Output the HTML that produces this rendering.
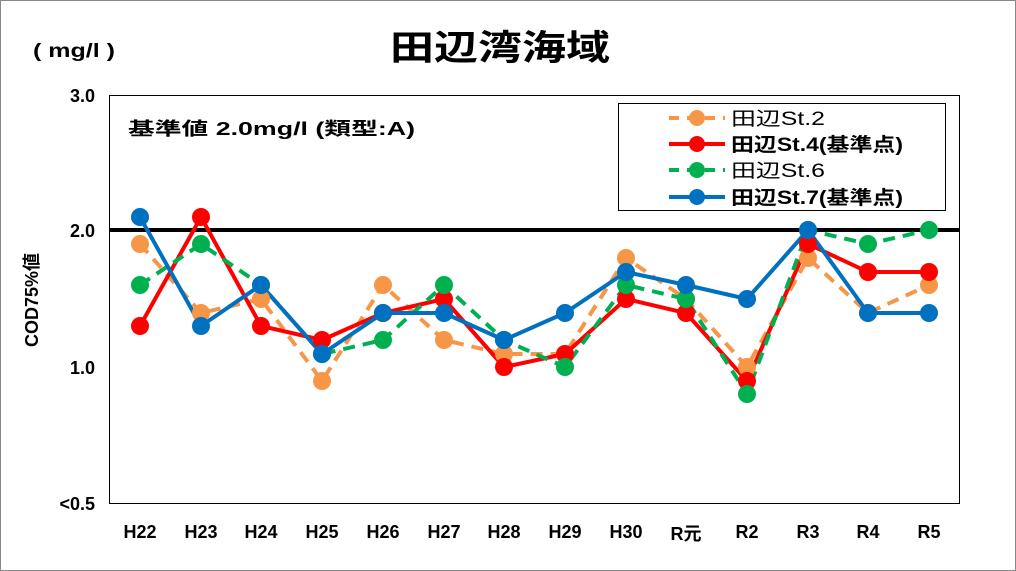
<!DOCTYPE html>
<html><head><meta charset="utf-8"><style>body{margin:0;background:#fff}svg{display:block;font-family:"Liberation Sans","Noto Sans CJK JP",sans-serif}</style></head>
<body>
<svg width="1016" height="571" viewBox="0 0 1016 571">
<rect x="0.5" y="0.5" width="1015" height="570" fill="#fff" stroke="#888"/>
<text x="390" y="60" font-size="35" font-weight="bold" textLength="220" lengthAdjust="spacingAndGlyphs">田辺湾海域</text>
<text x="33" y="57" font-size="19" font-weight="bold" textLength="82" lengthAdjust="spacingAndGlyphs">( mg/l )</text>
<rect x="109.5" y="95.5" width="850" height="408" fill="#fff" stroke="#000" stroke-width="1"/>
<line x1="109" y1="230" x2="959" y2="230" stroke="#000" stroke-width="4"/>
<g font-size="18" font-weight="bold" text-anchor="end">
<text x="95" y="102">3.0</text><text x="95" y="237">2.0</text><text x="95" y="374">1.0</text><text x="95" y="510">&lt;0.5</text>
</g>
<text transform="translate(38,300) rotate(-90)" font-size="18" font-weight="bold" text-anchor="middle">COD75%値</text>
<g font-size="18" font-weight="bold" text-anchor="middle">
<text x="140" y="538">H22</text><text x="201" y="538">H23</text><text x="261" y="538">H24</text><text x="322" y="538">H25</text><text x="383" y="538">H26</text><text x="444" y="538">H27</text><text x="504" y="538">H28</text><text x="565" y="538">H29</text><text x="626" y="538">H30</text><text x="686" y="540">R元</text><text x="747" y="538">R2</text><text x="808" y="538">R3</text><text x="868" y="538">R4</text><text x="929" y="538">R5</text>
</g>
<text x="128" y="135" font-size="18" font-weight="bold" textLength="287" lengthAdjust="spacingAndGlyphs">基準値  2.0mg/l (類型:A)</text>
<g fill="none" stroke-width="4">
<polyline stroke="#F79646" stroke-dasharray="12,8" points="140,244 201,313 261,299 322,381 383,285 444,340 504,354 565,354 626,258 686,299 747,367 808,258 868,313 929,285"/>
<polyline stroke="#FF0000" points="140,326 201,217 261,326 322,340 383,313 444,299 504,367 565,354 626,299 686,313 747,381 808,244 868,272 929,272"/>
<polyline stroke="#00B050" stroke-dasharray="12,8" points="140,285 201,244 261,285 322,354 383,340 444,285 504,340 565,367 626,285 686,299 747,394 808,230 868,244 929,230"/>
<polyline stroke="#0070C0" points="140,217 201,326 261,285 322,354 383,313 444,313 504,340 565,313 626,272 686,285 747,299 808,230 868,313 929,313"/>
</g>
<g fill="#F79646"><circle cx="140" cy="244" r="9"/><circle cx="201" cy="313" r="9"/><circle cx="261" cy="299" r="9"/><circle cx="322" cy="381" r="9"/><circle cx="383" cy="285" r="9"/><circle cx="444" cy="340" r="9"/><circle cx="504" cy="354" r="9"/><circle cx="565" cy="354" r="9"/><circle cx="626" cy="258" r="9"/><circle cx="686" cy="299" r="9"/><circle cx="747" cy="367" r="9"/><circle cx="808" cy="258" r="9"/><circle cx="868" cy="313" r="9"/><circle cx="929" cy="285" r="9"/></g>
<g fill="#FF0000"><circle cx="140" cy="326" r="9"/><circle cx="201" cy="217" r="9"/><circle cx="261" cy="326" r="9"/><circle cx="322" cy="340" r="9"/><circle cx="383" cy="313" r="9"/><circle cx="444" cy="299" r="9"/><circle cx="504" cy="367" r="9"/><circle cx="565" cy="354" r="9"/><circle cx="626" cy="299" r="9"/><circle cx="686" cy="313" r="9"/><circle cx="747" cy="381" r="9"/><circle cx="808" cy="244" r="9"/><circle cx="868" cy="272" r="9"/><circle cx="929" cy="272" r="9"/></g>
<g fill="#00B050"><circle cx="140" cy="285" r="9"/><circle cx="201" cy="244" r="9"/><circle cx="261" cy="285" r="9"/><circle cx="322" cy="354" r="9"/><circle cx="383" cy="340" r="9"/><circle cx="444" cy="285" r="9"/><circle cx="504" cy="340" r="9"/><circle cx="565" cy="367" r="9"/><circle cx="626" cy="285" r="9"/><circle cx="686" cy="299" r="9"/><circle cx="747" cy="394" r="9"/><circle cx="808" cy="230" r="9"/><circle cx="868" cy="244" r="9"/><circle cx="929" cy="230" r="9"/></g>
<g fill="#0070C0"><circle cx="140" cy="217" r="9"/><circle cx="201" cy="326" r="9"/><circle cx="261" cy="285" r="9"/><circle cx="322" cy="354" r="9"/><circle cx="383" cy="313" r="9"/><circle cx="444" cy="313" r="9"/><circle cx="504" cy="340" r="9"/><circle cx="565" cy="313" r="9"/><circle cx="626" cy="272" r="9"/><circle cx="686" cy="285" r="9"/><circle cx="747" cy="299" r="9"/><circle cx="808" cy="230" r="9"/><circle cx="868" cy="313" r="9"/><circle cx="929" cy="313" r="9"/></g>
<rect x="618.5" y="103.5" width="327" height="107" fill="#fff" stroke="#000"/>
<g stroke-width="4">
<line x1="669" y1="118" x2="725" y2="118" stroke="#F79646" stroke-dasharray="10,8"/><circle cx="697" cy="118" r="8" fill="#F79646"/>
<line x1="669" y1="144" x2="725" y2="144" stroke="#FF0000"/><circle cx="697" cy="144" r="8" fill="#FF0000"/>
<line x1="669" y1="170" x2="725" y2="170" stroke="#00B050" stroke-dasharray="10,8"/><circle cx="697" cy="170" r="8" fill="#00B050"/>
<line x1="669" y1="197" x2="725" y2="197" stroke="#0070C0"/><circle cx="697" cy="197" r="8" fill="#0070C0"/>
</g>
<g font-size="19">
<text x="731" y="125" textLength="94" lengthAdjust="spacingAndGlyphs">田辺St.2</text>
<text x="731" y="151" font-weight="bold" textLength="172" lengthAdjust="spacingAndGlyphs">田辺St.4(基準点)</text>
<text x="731" y="177" textLength="94" lengthAdjust="spacingAndGlyphs">田辺St.6</text>
<text x="731" y="204" font-weight="bold" textLength="172" lengthAdjust="spacingAndGlyphs">田辺St.7(基準点)</text>
</g>
</svg>
</body></html>
